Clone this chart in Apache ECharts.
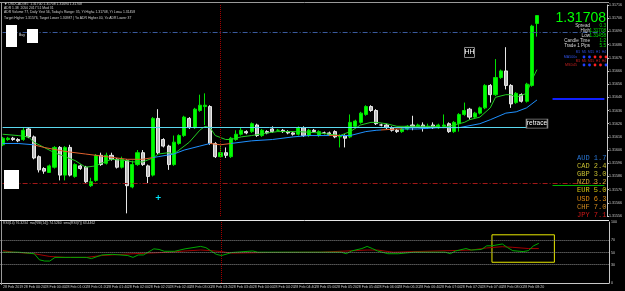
<!DOCTYPE html>
<html><head><meta charset="utf-8">
<script src="https://cdn.jsdelivr.net/npm/echarts@6/dist/echarts.min.js"></script>
<style>html,body{margin:0;padding:0;background:#000;}#c{width:625px;height:291px;}</style>
</head><body><div id="c"></div>
<script>
// ---- candle data (USDCAD M5) ----
const opens = [
1.31610,1.31614,1.31615,1.31614,1.31614,1.31622,1.31616,1.31601,1.31592,1.31589,
1.31593,1.31608,1.31587,1.31608,1.31586,1.31594,1.31593,1.31579,1.31583,1.31602,
1.31596,1.31602,1.31599,1.31593,1.31598,1.31578,1.31595,1.31604,1.31594,1.31587,
1.31630,1.31614,1.31609,1.31595,1.31611,1.31617,1.31630,1.31623,1.31636,1.31639,
1.31639,1.31611,1.31601,1.31604,1.31601,1.31614,1.31618,1.31620,1.31620,1.31625,
1.31617,1.31620,1.31622,1.31621,1.31621,1.31620,1.31619,1.31618,1.31623,1.31617,
1.31621,1.31617,1.31619,1.31619,1.31620,1.31616,1.31617,1.31616,1.31624,1.31627,
1.31633,1.31639,1.31636,1.31625,1.31625,1.31623,1.31621,1.31620,1.31622,1.31625,
1.31624,1.31625,1.31623,1.31625,1.31623,1.31624,1.31626,1.31620,1.31626,1.31633,
1.31637,1.31631,1.31634,1.31638,1.31655,1.31648,1.31661,1.31666,1.31655,1.31642,
1.31648,1.31643,1.31655,1.31702];
const closes = [
1.31615,1.31615,1.31614,1.31613,1.31621,1.31616,1.31600,1.31591,1.31590,1.31594,
1.31608,1.31587,1.31608,1.31587,1.31595,1.31592,1.31582,1.31582,1.31602,1.31595,
1.31602,1.31599,1.31593,1.31599,1.31579,1.31595,1.31604,1.31595,1.31586,1.31630,
1.31604,1.31609,1.31595,1.31612,1.31617,1.31631,1.31623,1.31637,1.31640,1.31640,
1.31611,1.31601,1.31604,1.31602,1.31615,1.31618,1.31621,1.31619,1.31626,1.31617,
1.31621,1.31619,1.31620,1.31621,1.31620,1.31619,1.31618,1.31623,1.31617,1.31621,
1.31620,1.31620,1.31619,1.31618,1.31616,1.31617,1.31615,1.31627,1.31628,1.31634,
1.31639,1.31636,1.31626,1.31625,1.31623,1.31621,1.31620,1.31622,1.31624,1.31624,
1.31625,1.31623,1.31624,1.31623,1.31625,1.31625,1.31620,1.31627,1.31633,1.31636,
1.31631,1.31634,1.31638,1.31655,1.31648,1.31661,1.31666,1.31655,1.31641,1.31649,
1.31643,1.31656,1.31700,1.31708];
const lows = [
1.31609,1.31613,1.31613,1.31612,1.31613,1.31615,1.31599,1.31589,1.31588,1.31589,
1.31592,1.31583,1.31583,1.31586,1.31585,1.31591,1.31581,1.31578,1.31582,1.31594,
1.31595,1.31598,1.31592,1.31592,1.31558,1.31577,1.31594,1.31594,1.31581,1.31586,
1.31603,1.31608,1.31591,1.31594,1.31610,1.31616,1.31622,1.31622,1.31635,1.31625,
1.31610,1.31600,1.31600,1.31600,1.31600,1.31613,1.31617,1.31618,1.31619,1.31616,
1.31616,1.31618,1.31619,1.31620,1.31619,1.31618,1.31617,1.31617,1.31616,1.31616,
1.31619,1.31616,1.31618,1.31617,1.31615,1.31608,1.31608,1.31615,1.31623,1.31626,
1.31632,1.31635,1.31625,1.31624,1.31622,1.31620,1.31619,1.31619,1.31621,1.31621,
1.31623,1.31620,1.31622,1.31622,1.31622,1.31623,1.31619,1.31619,1.31620,1.31632,
1.31629,1.31630,1.31633,1.31637,1.31642,1.31647,1.31660,1.31652,1.31638,1.31641,
1.31642,1.31642,1.31654,1.31692];
const highs = [
1.31616,1.31616,1.31616,1.31615,1.31623,1.31623,1.31617,1.31602,1.31593,1.31595,
1.31609,1.31609,1.31609,1.31610,1.31596,1.31595,1.31594,1.31585,1.31603,1.31604,
1.31604,1.31604,1.31600,1.31601,1.31599,1.31598,1.31606,1.31606,1.31595,1.31631,
1.31637,1.31615,1.31610,1.31617,1.31618,1.31632,1.31631,1.31638,1.31648,1.31649,
1.31640,1.31612,1.31610,1.31608,1.31616,1.31621,1.31623,1.31621,1.31627,1.31626,
1.31622,1.31621,1.31624,1.31622,1.31622,1.31621,1.31620,1.31624,1.31624,1.31622,
1.31622,1.31621,1.31620,1.31620,1.31621,1.31618,1.31618,1.31633,1.31629,1.31635,
1.31640,1.31640,1.31637,1.31626,1.31626,1.31624,1.31622,1.31623,1.31625,1.31632,
1.31626,1.31627,1.31626,1.31627,1.31626,1.31633,1.31627,1.31628,1.31634,1.31642,
1.31638,1.31635,1.31639,1.31656,1.31656,1.31675,1.31667,1.31684,1.31656,1.31650,
1.31649,1.31657,1.31701,1.31708];

// moving averages: [bar index, price]
const maFast = [[0,1.31618],[3,1.31617],[5,1.31616],[6,1.31612],[8,1.31608],[10,1.31604],[12,1.31601],[14,1.31598],[16,1.31593],[18,1.31594],[19,1.31596],[21,1.31599],[24,1.31598],[25,1.31597],[27,1.31597],[29,1.31600],[30,1.31603],[32,1.31604],[33,1.31603],[34,1.31606],[36,1.31612],[38,1.31621],[39,1.31624],[40,1.31623],[41,1.31617],[43,1.31614],[44,1.31614],[46,1.31616],[48,1.31617],[51,1.31619],[53,1.31620],[57,1.31620],[61,1.31619],[63,1.31618],[65,1.31617],[67,1.31620],[69,1.31625],[71,1.31627],[72,1.31627],[74,1.31626],[76,1.31624],[80,1.31624],[83,1.31624],[85,1.31623],[87,1.31625],[89,1.31627],[90,1.31629],[92,1.31631],[94,1.31638],[95,1.31646],[97,1.31648],[98,1.31648],[99,1.31646],[101,1.31649],[102,1.31659],[103,1.31667]];
const maSlow = [[0,1.31611],[3,1.31611],[6,1.31610],[8,1.31608],[12,1.31605],[16,1.31603],[20,1.31601],[24,1.31599],[27,1.31599],[30,1.31601],[33,1.31603],[35,1.31606],[38,1.31609],[40,1.31611],[42,1.31610],[44,1.31611],[48,1.31613],[52,1.31614],[56,1.31616],[59,1.31617],[61,1.31617],[65,1.31617],[67,1.31617],[70,1.31620],[72,1.31621],[76,1.31622],[80,1.31622],[84,1.31623],[88,1.31623],[92,1.31626],[94,1.31629],[97,1.31634],[99,1.31635],[101,1.31638],[103,1.31644]];
const maSlowDownRanges = [[6,29],[40,44],[63,65],[73,77],[85,86]];

// RSI panel: [bar index, value]
const rsiMain = [[0,50.5],[3,50.5],[6,48],[7,38],[8,36],[9,36],[10,42],[13,42],[16,42],[17,40],[19,46],[21,47],[24,45],[25,42],[26,46],[27,46],[29,56],[30,55],[31,52],[33,52],[35,56],[38,60],[39,58],[41,47],[42,45],[44,50],[48,52.5],[49,50.5],[51,50.5],[57,50.5],[65,50.5],[66,48],[67,52.5],[69,56.5],[70,60],[71,56.5],[72,52.5],[74,48],[76,48],[79,50.5],[85,50.5],[86,48],[87,52.5],[89,56.5],[90,54],[92,55],[93,61],[94,61],[96,64],[97,58],[98,53],[100,51.5],[101,53],[102,61],[103,65]];
const rsiSignal = [[0,53],[2,50.5],[6,48],[9,43.5],[12,42],[16,42],[19,45],[25,48],[28,49],[32,50.5],[35,52.5],[38,54],[40,53],[42,51.5],[44,49],[51,50],[61,50.5],[70,54],[72,54],[75,50.5],[90,54],[93,57.5],[96,59.5],[98,58.5],[101,56.5],[103,56.5]];
const rsiLevels = [70, 50, 30];

// time tick labels (every 4th bar)
const timeLabels = ['28 Feb 2019','28 Feb 00:20','28 Feb 00:40','28 Feb 01:00','28 Feb 01:20','28 Feb 01:40','28 Feb 02:00','28 Feb 02:20','28 Feb 02:40','28 Feb 03:00','28 Feb 03:20','28 Feb 03:40','28 Feb 04:00','28 Feb 04:20','28 Feb 04:40','28 Feb 05:00','28 Feb 05:20','28 Feb 05:40','28 Feb 06:00','28 Feb 06:20','28 Feb 06:40','28 Feb 07:00','28 Feb 07:20','28 Feb 07:40','28 Feb 08:00','28 Feb 08:20'];
const barSlots = 117;

// price levels
const askPrice = 1.31710, bidPrice = 1.31708;
const dashBlueLevel = 1.31695, whiteLevel = 1.31677, blueSegLevel = 1.31645;
const whiteLowLevel = 1.31625, cyanLevel = 1.31623, redDashLevel = 1.31581, greenSegLevel = 1.31579;
const arrowPrice = 1.31570;

// currency strength
const currencies = ['AUD','CAD','GBP','NZD','EUR','USD','CHF','JPY'];
const strengths = ['1.7','2.4','3.0','3.2','5.0','6.3','7.0','7.1'];
const currColors = ['#2a78d8','#c8be30','#c8be30','#d0a830','#d8c810','#e08a10','#d08a20','#d01818'];

// ---- build ----
const categories = [];
for (let i = 0; i < barSlots; i++) categories.push(String(i));
const candles = opens.map((o, i) => [o, closes[i], lows[i], highs[i]]);

const FONT = 'Liberation Sans';
function txt(x, y, text, st) {
  return {type:'text', x:x, y:y, silent:true, z:100,
    style:Object.assign({text:text, fill:'#d0d0d0', fontSize:4, fontFamily:FONT, align:'left', verticalAlign:'middle'}, st||{})};
}
const graphics = [];
// frame
graphics.push({type:'line', silent:true, z:50, shape:{x1:0, y1:2.5, x2:609, y2:2.5}, style:{stroke:'#9a9a9a', lineWidth:1}});
graphics.push({type:'line', silent:true, z:50, shape:{x1:1.5, y1:2, x2:1.5, y2:285}, style:{stroke:'#9a9a9a', lineWidth:1}});
graphics.push({type:'line', silent:true, z:50, shape:{x1:0, y1:220.5, x2:609, y2:220.5}, style:{stroke:'#e8e8e8', lineWidth:1}});
// header texts
graphics.push(txt(4, 4, '\u25BC USDCAD,M5  1.31700 1.31708 1.31694 1.31708', {fontSize:3.4}));
graphics.push(txt(4, 8.5, 'ADR 1.38  2050 2017 51 Mod 31', {fontSize:3.4}));
graphics.push(txt(4, 12.5, 'ADR Volume 77, Daily Yest 56, Today\'s Range: 35, Yt High= 1.31708, Yt Low= 1.31458', {fontSize:3.4}));
graphics.push(txt(4, 18.5, 'Target Higher 1.31576, Target Lower 1.30987 | Yo ADR Higher 40, Yo ADR Lower 37', {fontSize:3.4}));
// buttons
graphics.push({type:'rect', silent:true, z:90, shape:{x:6, y:25, width:11, height:22}, style:{fill:'#ffffff'}});
graphics.push({type:'rect', silent:true, z:90, shape:{x:27, y:29, width:11, height:14}, style:{fill:'#ffffff'}});
graphics.push({type:'rect', silent:true, z:90, shape:{x:4, y:170, width:15, height:19}, style:{fill:'#ffffff'}});
graphics.push(txt(19, 35, 'Buy', {fontSize:3.4, fill:'#e0e0e0'}));
// top-right info panel
graphics.push(txt(606, 18.5, '1.31708', {fontSize:14, fill:'#00ff00', align:'right'}));
const infoL = ['Spread','High','Low','Candle Time','Trade 1 Pips'];
const infoV = ['0.3','1.31708','1.31458','1:2','5.5'];
const infoY = [25.5, 30.5, 35.5, 41, 46];
infoL.forEach((l, i) => {
  graphics.push(txt(590, infoY[i], l, {fontSize:4.6, fill:'#d8d8d8', align:'right'}));
  graphics.push(txt(606, infoY[i], infoV[i], {fontSize:4.6, fill:'#00e000', align:'right'}));
});
// signal dots
const dotX = [584, 589.5, 595, 600.5, 606];
const row1 = ['#2040ff','#2040ff','#ff2020','#ff2020','#ff2020'];
const row2 = ['#2040ff','#2040ff','#ff2020','#ff2020','#2040ff'];
graphics.push(txt(606, 52.5, 'M1  M5  M15  H1  H4', {fontSize:3.2, fill:'#3050e0', align:'right'}));
graphics.push(txt(606, 61, 'M1  M5  M15  H1  H4', {fontSize:3.2, fill:'#d02020', align:'right'}));
graphics.push(txt(577, 57, 'MA500x', {fontSize:3.6, fill:'#3050e0', align:'right'}));
graphics.push(txt(577, 65, 'MSD45', {fontSize:3.6, fill:'#c02020', align:'right'}));
dotX.forEach((x, i) => {
  graphics.push({type:'circle', silent:true, z:100, shape:{cx:x, cy:57, r:1.4}, style:{fill:row1[i]}});
  graphics.push({type:'circle', silent:true, z:100, shape:{cx:x, cy:65, r:1.4}, style:{fill:row2[i]}});
});
// currency strength
currencies.forEach((c, i) => {
  graphics.push(txt(577, 158 + i * 8.15, c + ' ' + strengths[i], {fontSize:7, fontFamily:'Liberation Mono', fill:currColors[i]}));
});
// RSI title
graphics.push(txt(3, 223.5, 'RSI(14) 76.3234  ma(RSI(14)) 74.5260  sma(RSI(7)) 63.4462', {fontSize:3.4}));

const pieces = maSlowDownRanges.map(r => ({gte:r[0], lte:r[1], color:'#e0602c'}));

const option = {
  backgroundColor:'#000000',
  animation:false,
  graphic:graphics,
  grid:[
    {left:0, right:16, top:5, bottom:75},
    {left:0, right:16, top:222, bottom:8}
  ],
  xAxis:[
    {type:'category', gridIndex:0, data:categories, show:false, boundaryGap:true},
    {type:'category', gridIndex:1, data:categories, boundaryGap:true,
      axisLine:{lineStyle:{color:'#c8c8c8'}},
      axisTick:{interval:3, alignWithLabel:true, length:2, lineStyle:{color:'#c8c8c8'}},
      axisLabel:{interval:3, color:'#c8c8c8', fontSize:3.6, fontFamily:FONT, margin:2, align:'left',
        formatter:(v, idx) => (idx % 4 === 0 && timeLabels[idx / 4]) ? timeLabels[idx / 4] : ''},
      splitLine:{show:false}}
  ],
  yAxis:[
    {type:'value', gridIndex:0, position:'right', min:1.31556, max:1.31716, interval:0.0001,
      axisLine:{show:true, lineStyle:{color:'#c8c8c8'}},
      axisTick:{show:true, length:2, lineStyle:{color:'#c8c8c8'}},
      axisLabel:{color:'#c8c8c8', fontSize:3.6, fontFamily:FONT, margin:2, formatter:v => v.toFixed(5)},
      splitLine:{show:false}},
    {type:'value', gridIndex:1, position:'right', min:0, max:100, interval:10,
      axisLine:{show:true, lineStyle:{color:'#c8c8c8'}},
      axisTick:{show:false},
      axisLabel:{color:'#c8c8c8', fontSize:3.6, fontFamily:FONT, margin:2,
        formatter:v => ([0,30,50,70,100].indexOf(Math.round(v)) >= 0 ? String(Math.round(v)) : '')},
      splitLine:{show:false}}
  ],
  visualMap:[{type:'piecewise', show:false, seriesIndex:2, dimension:0, pieces:pieces, outOfRange:{color:'#1e90ff'}}],
  series:[
    {type:'candlestick', xAxisIndex:0, yAxisIndex:0, data:candles, barWidth:3.6,
      itemStyle:{color:'#00ff00', color0:'#bcbcbc', borderColor:'#00e000', borderColor0:'#e8e8e8', borderWidth:1},
      markLine:{silent:true, symbol:['none','none'], animation:false, label:{show:false}, data:[
        {yAxis:askPrice, lineStyle:{color:'#8a8a8a', type:'solid', width:1}},
        {yAxis:bidPrice, lineStyle:{color:'#9a9a9a', type:'solid', width:1},
          label:{show:true, position:'end', distance:2, formatter:'1.31708', color:'#000', backgroundColor:'#e0e0e0', fontSize:3.8, padding:[1,1]}},
        {yAxis:whiteLevel, lineStyle:{color:'#e8e8e8', type:'solid', width:1},
          label:{show:true, position:'end', distance:2, formatter:'1.31677', color:'#000', backgroundColor:'#e0e0e0', fontSize:3.8, padding:[1,1]}},
        {yAxis:whiteLowLevel, lineStyle:{color:'#e8e8e8', type:'solid', width:1}},
        {xAxis:42, lineStyle:{color:'#a00000', type:'dotted', width:1}},
        [{coord:[0, dashBlueLevel], lineStyle:{color:'#3a5a9c', type:[5,2,1,2], width:1}}, {coord:[116, dashBlueLevel]}],
        [{coord:[0, redDashLevel], lineStyle:{color:'#a01818', type:[5,2,1,2], width:1}}, {coord:[116, redDashLevel]}],
        [{coord:[0, cyanLevel], lineStyle:{color:'#5ad8f0', type:'solid', width:1}}, {coord:[103, cyanLevel]}],
        [{coord:[106, blueSegLevel], lineStyle:{color:'#1020ff', type:'solid', width:2}}, {coord:[116, blueSegLevel]}],
        [{coord:[106, greenSegLevel], lineStyle:{color:'#00b000', type:'solid', width:1}}, {coord:[116, greenSegLevel]}]
      ]},
      markPoint:{silent:true, animation:false, data:[
        {coord:[90, 1.31680], symbol:'rect', symbolSize:[10,10],
          itemStyle:{color:'rgba(0,0,0,0)', borderColor:'#8a8a8a', borderWidth:1},
          label:{show:true, position:'inside', formatter:'HH', color:'#ffffff', fontSize:7, fontFamily:FONT}},
        {coord:[103, 1.31626], symbol:'rect', symbolSize:[21,9],
          itemStyle:{color:'#000000', borderColor:'#8a8a8a', borderWidth:1},
          label:{show:true, position:'inside', formatter:'retrace', color:'#ffffff', fontSize:6.5, fontFamily:FONT}},
        {coord:[30, arrowPrice], symbol:'path://M2,0H3V2H5V3H3V5H2V3H0V2H2Z', symbolSize:5,
          itemStyle:{color:'#00e8ff'}, label:{show:false}}
      ]}
    },
    {type:'line', xAxisIndex:0, yAxisIndex:0, data:maFast, showSymbol:false, symbol:'none',
      lineStyle:{color:'#22cc22', width:1}, z:3},
    {type:'line', xAxisIndex:0, yAxisIndex:0, data:maSlow, showSymbol:false, symbol:'none',
      lineStyle:{width:1}, z:3},
    {type:'line', xAxisIndex:1, yAxisIndex:1, data:rsiMain, showSymbol:false, symbol:'none',
      lineStyle:{color:'#00a800', width:1}, z:4,
      markLine:{silent:true, symbol:['none','none'], animation:false, label:{show:false}, data:
        rsiLevels.map(v => ({yAxis:v, lineStyle:{color:'#8a8a8a', type:'dotted', width:1}})).concat([
        {xAxis:42, lineStyle:{color:'#a00000', type:'dotted', width:1}}])},
      markArea:{silent:true, data:[[{coord:[94, 79], itemStyle:{color:'rgba(0,0,0,0)', borderColor:'#e8e800', borderWidth:1}}, {coord:[106, 34]}]]}
    },
    {type:'line', xAxisIndex:1, yAxisIndex:1, data:rsiSignal, showSymbol:false, symbol:'none',
      lineStyle:{color:'#a00000', width:1}, z:3}
  ]
};
const chart = echarts.init(document.getElementById('c'), null, {renderer:'canvas'});
chart.setOption(option);
</script>
</body></html>
